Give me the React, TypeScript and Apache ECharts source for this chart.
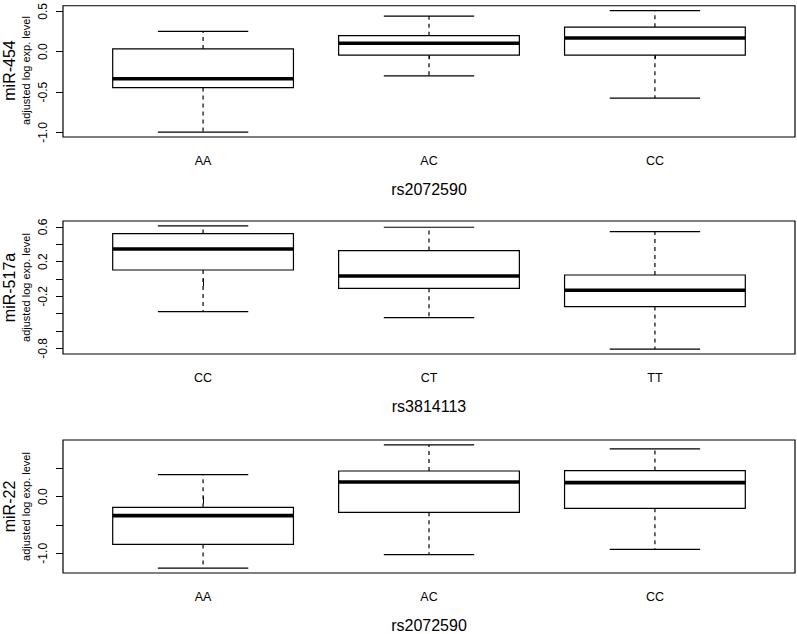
import React, { useEffect, useRef } from 'react';
import * as echarts from 'echarts';

const FONT = '"Liberation Sans", Arial, Helvetica, sans-serif';

// five-number summaries: [lower whisker, Q1, median, Q3, upper whisker]
const mir454Genotypes = ['AA', 'AC', 'CC'];
const mir454Snp = 'rs2072590';
const mir454Stats = [
  [-0.996, -0.444, -0.334, 0.034, 0.252],
  [-0.3, -0.043, 0.104, 0.199, 0.44],
  [-0.574, -0.043, 0.169, 0.304, 0.509],
];
const mir454Ticks = [-1.0, -0.5, 0, 0.5];
const mir454TickLabels = [-1.0, -0.5, 0, 0.5];

const mir517Genotypes = ['CC', 'CT', 'TT'];
const mir517Snp = 'rs3814113';
const mir517Stats = [
  [-0.376, 0.104, 0.346, 0.524, 0.612],
  [-0.445, -0.107, 0.035, 0.328, 0.597],
  [-0.808, -0.318, -0.13, 0.046, 0.547],
];
const mir517Ticks = [-0.8, -0.6, -0.4, -0.2, 0, 0.2, 0.4, 0.6];
const mir517TickLabels = [-0.8, -0.2, 0.2, 0.6];

const mir22Genotypes = ['AA', 'AC', 'CC'];
const mir22Snp = 'rs2072590';
const mir22Stats = [
  [-1.261, -0.843, -0.336, -0.189, 0.389],
  [-1.025, -0.277, 0.258, 0.452, 0.912],
  [-0.931, -0.207, 0.247, 0.459, 0.841],
];
const mir22Ticks = [-1.0, -0.5, 0, 0.5];
const mir22TickLabels = [-1.0, 0];

const panels = [
  { mir: 'miR-454', cats: mir454Genotypes, snp: mir454Snp, stats: mir454Stats, ticks: mir454Ticks, labels: mir454TickLabels },
  { mir: 'miR-517a', cats: mir517Genotypes, snp: mir517Snp, stats: mir517Stats, ticks: mir517Ticks, labels: mir517TickLabels },
  { mir: 'miR-22', cats: mir22Genotypes, snp: mir22Snp, stats: mir22Stats, ticks: mir22Ticks, labels: mir22TickLabels },
];

const gridTops = [4, 221, 440];
const gridHeight = 133;

export default function App() {
  const ref = useRef<HTMLDivElement>(null);
  useEffect(() => {
    document.body.style.margin = '0';
    const chart = echarts.init(ref.current!, null, { renderer: 'svg' });

    const grids = panels.map((_, i) => ({
      left: 63, right: 2, top: gridTops[i], height: gridHeight,
      show: true, borderColor: '#000', borderWidth: 1.2, backgroundColor: 'transparent',
    }));

    const xAxes = panels.map((p, i) => ({
      gridIndex: i, type: 'value', min: 0.38, max: 3.62,
      splitLine: { show: false },
      axisLine: { show: false },
      axisTick: { show: true, customValues: [1, 2, 3], length: 7, lineStyle: { color: '#000', width: 1 } },
      axisLabel: {
        customValues: [1, 2, 3], margin: 17, fontSize: 12.5, color: '#000', fontFamily: FONT,
        formatter: (v: number) => p.cats[Math.round(v) - 1],
      },
      name: p.snp, nameLocation: 'middle', nameGap: 44,
      nameTextStyle: { fontSize: 16, color: '#000', fontFamily: FONT },
    }));

    const yAxes = panels.map((p, i) => {
      const all = p.stats.flat();
      const lo = Math.min(...all);
      const hi = Math.max(...all);
      const pad = (hi - lo) * 0.04;
      return {
        gridIndex: i, type: 'value', min: lo - pad, max: hi + pad,
        splitLine: { show: false },
        axisLine: { show: false },
        axisTick: { show: true, customValues: p.ticks, length: 7, lineStyle: { color: '#000', width: 1 } },
        axisLabel: {
          customValues: p.labels, rotate: 90, margin: 14, fontSize: 12, color: '#000', fontFamily: FONT,
          formatter: (v: number) => v.toFixed(1),
        },
      };
    });

    const series = panels.map((p, i) => ({
      type: 'custom', xAxisIndex: i, yAxisIndex: i,
      encode: { x: 0, y: [1, 2, 3, 4, 5] },
      data: p.stats.map((s, j) => [j + 1, ...s]),
      renderItem: (params: any, api: any) => {
        const x = api.value(0);
        const lw = api.value(1), q1 = api.value(2), med = api.value(3), q3 = api.value(4), uw = api.value(5);
        const cx = api.coord([x, 0])[0];
        const xL = api.coord([x - 0.4, 0])[0];
        const xR = api.coord([x + 0.4, 0])[0];
        const sL = api.coord([x - 0.2, 0])[0];
        const sR = api.coord([x + 0.2, 0])[0];
        const yLw = api.coord([x, lw])[1];
        const yQ1 = api.coord([x, q1])[1];
        const yMed = api.coord([x, med])[1];
        const yQ3 = api.coord([x, q3])[1];
        const yUw = api.coord([x, uw])[1];
        const dashed = { stroke: '#000', lineWidth: 1.2, lineDash: [4, 4], fill: null };
        const solid = { stroke: '#000', lineWidth: 1.2, fill: null };
        return {
          type: 'group',
          children: [
            { type: 'line', shape: { x1: cx, y1: yQ3, x2: cx, y2: yUw }, style: dashed },
            { type: 'line', shape: { x1: cx, y1: yQ1, x2: cx, y2: yLw }, style: dashed },
            { type: 'line', shape: { x1: sL, y1: yUw, x2: sR, y2: yUw }, style: solid },
            { type: 'line', shape: { x1: sL, y1: yLw, x2: sR, y2: yLw }, style: solid },
            { type: 'rect', shape: { x: xL, y: yQ3, width: xR - xL, height: yQ1 - yQ3 }, style: { fill: '#fff', stroke: '#000', lineWidth: 1.2 } },
            { type: 'line', shape: { x1: xL, y1: yMed, x2: xR, y2: yMed }, style: { stroke: '#000', lineWidth: 3.6 } },
          ],
        };
      },
    }));

    const graphic: any[] = [];
    panels.forEach((p, i) => {
      const cy = gridTops[i] + gridHeight / 2;
      graphic.push({
        type: 'text', x: 9, y: cy, rotation: Math.PI / 2,
        style: { text: p.mir, font: `16px ${FONT}`, fill: '#000', textAlign: 'center', textVerticalAlign: 'middle' },
      });
      graphic.push({
        type: 'text', x: 26, y: cy, rotation: Math.PI / 2,
        style: { text: 'adjusted log exp. level', font: `11px ${FONT}`, fill: '#000', textAlign: 'center', textVerticalAlign: 'middle' },
      });
    });

    chart.setOption({
      animation: false,
      backgroundColor: '#fff',
      grid: grids,
      xAxis: xAxes,
      yAxis: yAxes,
      series,
      graphic,
    } as any);
    return () => chart.dispose();
  }, []);
  return <div ref={ref} style={{ width: 797, height: 634, overflow: 'hidden' }} />;
}
